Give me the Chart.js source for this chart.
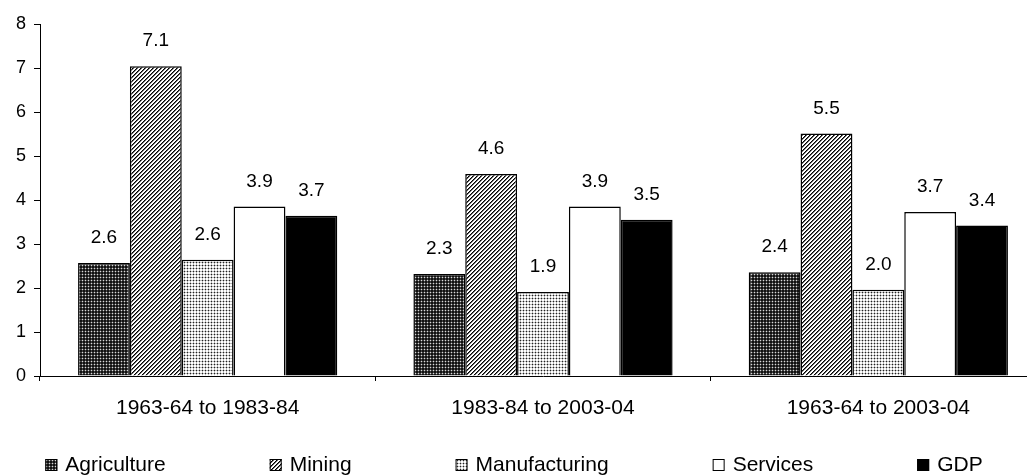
<!DOCTYPE html>
<html>
<head>
<meta charset="utf-8">
<script src="https://cdn.jsdelivr.net/npm/chart.js@4/dist/chart.umd.min.js"></script>
<style>
  html, body { margin: 0; padding: 0; background: #fff; overflow: hidden; }
  #wrap { width: 1046px; height: 475px; }
</style>
</head>
<body>
<div id="wrap"><canvas id="grafico" width="1046" height="475"></canvas></div>
<script>
// periodos e valores (altura das barras) + rotulos impressos
const periodos = ['1963-64 to 1983-84', '1983-84 to 2003-04', '1963-64 to 2003-04'];
const setores = ['Agriculture', 'Mining', 'Manufacturing', 'Services', 'GDP'];

const agricultura = [2.57, 2.32, 2.36];
const mineracao = [7.04, 4.59, 5.51];
const manufatura = [2.64, 1.91, 1.96];
const servicos = [3.85, 3.85, 3.73];
const pib = [3.64, 3.55, 3.42];

const rotAgricultura = ['2.6', '2.3', '2.4'];
const rotMineracao = ['7.1', '4.6', '5.5'];
const rotManufatura = ['2.6', '1.9', '2.0'];
const rotServicos = ['3.9', '3.9', '3.7'];
const rotPib = ['3.7', '3.5', '3.4'];

const ticksY = [0, 1, 2, 3, 4, 5, 6, 7, 8];

const FONTE = '"Liberation Sans", Arial, sans-serif';

function padrao(tam, pintar) {
  const c = document.createElement('canvas');
  c.width = tam; c.height = tam;
  const g = c.getContext('2d');
  for (let x = 0; x < tam; x++) {
    for (let y = 0; y < tam; y++) {
      g.fillStyle = pintar(x, y);
      g.fillRect(x, y, 1, 1);
    }
  }
  return document.getElementById('grafico').getContext('2d').createPattern(c, 'repeat');
}

const corAgricultura = padrao(3, (x, y) => (x === 1 && y === 1) ? '#d8d8d8' : ((x === 1 || y === 1) ? '#444' : '#111'));
const corMineracao = padrao(4, (x, y) => {
  const v = (x + y) % 4;
  return v === 0 ? '#000' : v === 1 ? '#666' : '#fff';
});
const corManufatura = padrao(3, (x, y) => (x === 1 && y === 1) ? '#222' : ((x === 1 || y === 1) ? '#bbb' : '#fff'));

const rotulos = [rotAgricultura, rotMineracao, rotManufatura, rotServicos, rotPib];

const pluginRotulos = {
  id: 'rotulos',
  afterDatasetsDraw(chart) {
    const ctx = chart.ctx;
    ctx.save();
    ctx.font = '19px ' + FONTE;
    ctx.fillStyle = '#000';
    ctx.textAlign = 'center';
    ctx.textBaseline = 'middle';
    chart.data.datasets.forEach((ds, i) => {
      chart.getDatasetMeta(i).data.forEach((el, j) => {
        ctx.fillText(rotulos[i][j], el.x, el.y - 25);
      });
    });
    ctx.restore();
  }
};

// legenda desenhada à mão: o layout do Chart.js quebraria a linha com esse espaçamento
const pluginLegenda = {
  id: 'legendaManual',
  afterDraw(chart) {
    const ctx = chart.ctx;
    ctx.save();
    ctx.font = '21px ' + FONTE;
    const caixa = 12, folga = 8, espaco = 104;
    const larguras = chart.data.datasets.map((ds) => caixa + folga + ctx.measureText(ds.label).width);
    const total = larguras.reduce((a, b) => a + b, 0) + espaco * (larguras.length - 1);
    let x = 514 - total / 2;
    const yc = 465;
    chart.data.datasets.forEach((ds, i) => {
      ctx.fillStyle = ds.backgroundColor;
      ctx.fillRect(x, yc - caixa / 2, caixa, caixa);
      ctx.strokeStyle = '#000';
      ctx.lineWidth = 1;
      ctx.strokeRect(x + 0.5, yc - caixa / 2 + 0.5, caixa - 1, caixa - 1);
      ctx.fillStyle = '#000';
      ctx.textBaseline = 'middle';
      ctx.textAlign = 'left';
      ctx.fillText(ds.label, x + caixa + folga, yc);
      x += larguras[i] + espaco;
    });
    ctx.restore();
  }
};

const series = [agricultura, mineracao, manufatura, servicos, pib];
const cores = [corAgricultura, corMineracao, corManufatura, '#fff', '#000'];

new Chart(document.getElementById('grafico'), {
  type: 'bar',
  data: {
    labels: periodos,
    datasets: series.map((dados, i) => ({
      label: setores[i],
      data: dados,
      backgroundColor: cores[i],
      borderColor: '#000',
      borderWidth: 1.5,
      categoryPercentage: 0.773,
      barPercentage: 1
    }))
  },
  options: {
    responsive: false,
    animation: false,
    devicePixelRatio: 1,
    layout: { padding: { top: 24, right: 0, bottom: 49, left: 0 } },
    plugins: { legend: { display: false }, tooltip: { enabled: false } },
    scales: {
      x: {
        afterFit: (s) => { s.height = 50; },
        border: { color: '#000', width: 1 },
        grid: { display: true, drawOnChartArea: false, tickLength: 5, tickColor: '#000', offset: true },
        ticks: { color: '#000', font: { family: FONTE, size: 21 }, padding: 15, maxRotation: 0 }
      },
      y: {
        min: 0,
        max: 8,
        afterFit: (s) => { s.width = 40; },
        afterBuildTicks: (s) => { s.ticks = ticksY.map((v) => ({ value: v })); },
        border: { color: '#000', width: 1 },
        grid: { display: true, drawOnChartArea: false, tickLength: 6, tickColor: '#000' },
        ticks: { color: '#000', font: { family: FONTE, size: 18 }, padding: 8 }
      }
    }
  },
  plugins: [pluginRotulos, pluginLegenda]
});
</script>
</body>
</html>
